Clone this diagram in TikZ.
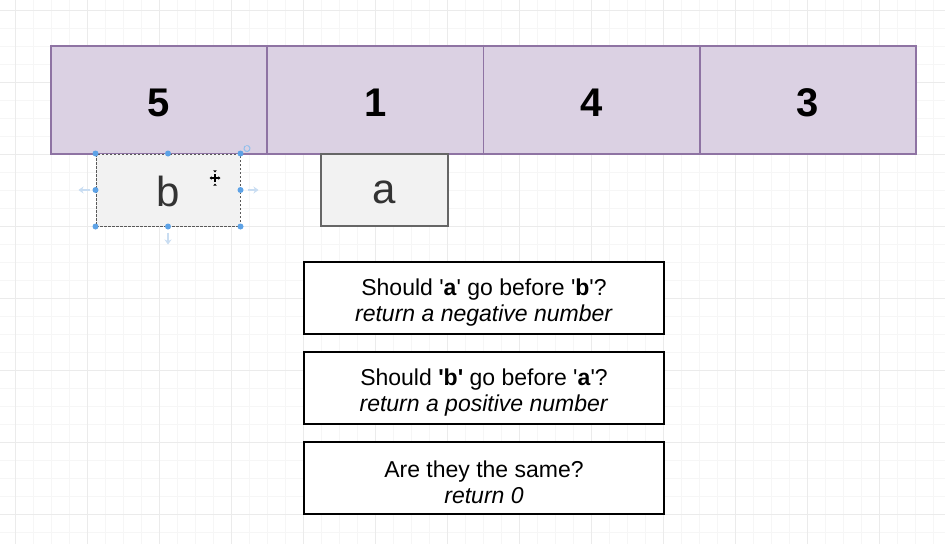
\documentclass[tikz,border=0pt]{standalone}
\usepackage{fontspec}
\setmainfont{Liberation Sans}[Ligatures=TeXOff]
\usetikzlibrary{arrows.meta}
\definecolor{gridminor}{HTML}{F6F6F6}
\definecolor{gridmajor}{HTML}{EBEBEB}
\definecolor{cellfill}{HTML}{DBD1E3}
\definecolor{celldraw}{HTML}{8E73A3}
\definecolor{boxfill}{HTML}{F2F2F2}
\definecolor{handle}{HTML}{5DA2E6}
\definecolor{ghost}{HTML}{C9DDF2}
\tikzset{
  cell/.style={fill=cellfill, minimum width=216.25pt, minimum height=108pt, inner sep=0pt},
  celltext/.style={inner sep=0pt, font=\fontsize{40}{42}\selectfont\bfseries},
  cellborder/.style={draw=celldraw, line width=1.5pt},
  letterbox/.style={fill=boxfill, minimum height=72pt, inner sep=0pt},
  lettertext/.style={inner sep=0pt, text=black!80, font=\fontsize{42}{44}\selectfont},
  textbox/.style={draw=black, line width=1.3pt, fill=white, minimum width=360pt, minimum height=72pt, inner sep=0pt},
  boxtext/.style={inner sep=0pt, align=center, font=\fontsize{23}{25.5}\selectfont},
  hdl/.style={circle, fill=handle, inner sep=0pt, minimum size=6pt},
  ghostarrow/.style={ghost, line width=1.6pt, -{Stealth[length=5pt,width=7pt]}}
}
\begin{document}
\begin{tikzpicture}[x=1pt,y=-1pt]
\useasboundingbox (0,0) rectangle (945,544);
\fill[white] (0,0) rectangle (945,544);
% grid
\foreach \k in {0,...,52} {
  \pgfmathsetmacro{\xx}{15.3+18*\k}
  \draw[gridminor, line width=0.7pt] (\xx,0) -- (\xx,544);
}
\foreach \k in {0,...,30} {
  \pgfmathsetmacro{\yy}{10+18*\k}
  \draw[gridminor, line width=0.7pt] (0,\yy) -- (945,\yy);
}
\foreach \k in {0,...,13} {
  \pgfmathsetmacro{\xx}{15.3+72*\k}
  \draw[gridmajor, line width=0.8pt] (\xx,0) -- (\xx,544);
}
\foreach \k in {0,...,7} {
  \pgfmathsetmacro{\yy}{10+72*\k}
  \draw[gridmajor, line width=0.8pt] (0,\yy) -- (945,\yy);
}
% top row
\node[cell] (c1) at (159.1,100) {};
\node[cell] (c2) at (375.4,100) {};
\node[cell] (c3) at (591.6,100) {};
\node[cell] (c4) at (807.9,100) {};
\foreach \c in {c1,c2,c3,c4}
  \draw[cellborder] (\c.north west) rectangle (\c.south east);
\node[celltext] (n1) at ([shift={(0,2.5)}]c1.center) {5};
\node[celltext] (n2) at ([shift={(0,2.5)}]c2.center) {1};
\node[celltext] (n3) at ([shift={(0,2.5)}]c3.center) {4};
\node[celltext] (n4) at ([shift={(0,2.5)}]c4.center) {3};
% b box (selected)
\node[letterbox, minimum width=144pt, draw=black!65, line width=1pt, dash pattern=on 2.5pt off 1.5pt] (b) at (168,190) {};
\node[lettertext] (bt) at ([shift={(0,1.5)}]b.center) {b};
% a box
\node[letterbox, minimum width=127pt, draw=black!60, line width=1.4pt] (a) at (384.5,190) {};
\node[lettertext] (at) at ([shift={(0,2.5)}]a.center) {a};
% handles on b
\foreach \p in {north west,north,north east,west,east,south west,south,south east}
  \node[hdl] at (b.\p) {};
\coordinate (lw) at ([xshift=-6pt]b.west);
\coordinate (le) at ([xshift=7pt]b.east);
\coordinate (ls) at ([yshift=-6pt]b.south);
\draw[ghostarrow] (lw) -- ++(-11,0);
\draw[ghostarrow] (le) -- ++(11,0);
\draw[ghostarrow] (ls) -- ++(0,12);
% rotate icon
\coordinate (rot) at (247,148.5);
\draw[handle!70, line width=1pt] ([shift={(60:3pt)}]rot) arc[start angle=60, end angle=-240, radius=3pt];
\draw[handle!70, line width=0.8pt] ([shift={(60:3pt)}]rot) -- ++(-2.2,-0.4);
% move cursor
\coordinate (cur) at (215,178);
\draw[black, line width=1.1pt] ([xshift=-4pt]cur) -- ([xshift=4pt]cur) ([yshift=-4pt]cur) -- ([yshift=4pt]cur);
\fill[black] ([xshift=-5.5pt]cur) -- ++(2.2,-1.8) -- ++(0,3.6) -- cycle;
\fill[black] ([xshift=5.5pt]cur) -- ++(-2.2,-1.8) -- ++(0,3.6) -- cycle;
\fill[black] ([yshift=-5.5pt]cur) -- ++(-1.8,2.2) -- ++(3.6,0) -- cycle;
\fill[black] ([yshift=5.5pt]cur) -- ++(-1.8,-2.2) -- ++(3.6,0) -- cycle;
% text boxes
\node[textbox] (t1) at (484,298) {};
\node[textbox] (t2) at (484,388) {};
\node[textbox] (t3) at (484,478) {};
\node[boxtext] (l1) at ([shift={(0,4.5)}]t1.center) {Should '\textbf{a}' go before '\textbf{b}'?\\\textit{return a negative number}};
\node[boxtext] (l2) at ([shift={(0,4.5)}]t2.center) {Should \textbf{'b'} go before '\textbf{a}'?\\\textit{return a positive number}};
\node[boxtext] (l3) at ([shift={(0,4.5)}]t3.center) {Are they the same?\\\textit{return 0}};
\end{tikzpicture}
\end{document}
